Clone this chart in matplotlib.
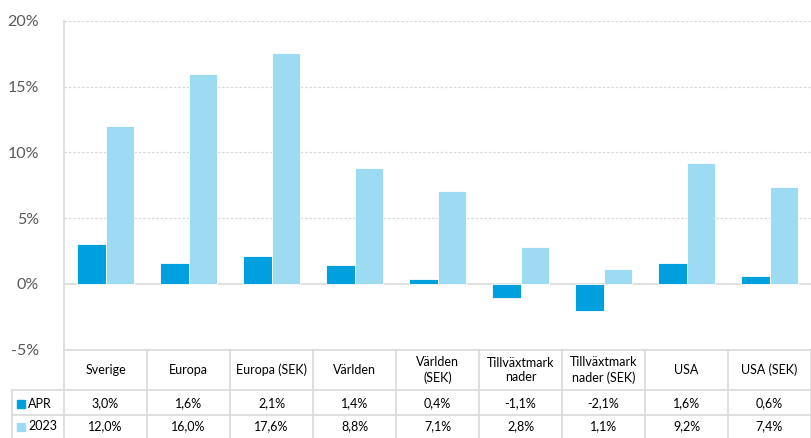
import numpy as np
import matplotlib
matplotlib.use("Agg")
import matplotlib.pyplot as plt

plt.rcParams['font.family'] = ['Lato', 'DejaVu Sans']

# data
categories = ["Sverige", "Europa", "Europa (SEK)", "Världen", "Världen\n(SEK)",
              "Tillväxtmark\nnader", "Tillväxtmark\nnader (SEK)", "USA", "USA (SEK)"]
series_names = ["APR", "2023"]
apr = [3.0, 1.6, 2.1, 1.4, 0.4, -1.1, -2.1, 1.6, 0.6]
y2023 = [12.0, 16.0, 17.6, 8.8, 7.1, 2.8, 1.1, 9.2, 7.4]
yticks = [-5, 0, 5, 10, 15, 20]

c_apr = "#00a0df"
c_2023 = "#9cdbf2"
grid_c = "#d9d9d9"

W, H = 811, 438
fig = plt.figure(figsize=(W / 100, H / 100), dpi=100)

# plot area (pixel layout)
left, right, top, bottom = 64, 811, 21, 349.5
ax = fig.add_axes([left / W, 1 - bottom / H, (right - left) / W, (bottom - top) / H])

n = len(categories)
x = np.arange(n)
bw = 0.343
ax.bar(x - bw / 2, apr, bw, color=c_apr, edgecolor="white", linewidth=0.6, zorder=3)
ax.bar(x + bw / 2, y2023, bw, color=c_2023, edgecolor="white", linewidth=0.6, zorder=3)

ax.set_xlim(-0.5, n - 0.5)
ax.set_ylim(-5, 20)
ax.set_yticks(yticks)
ax.set_yticklabels([f"{v}%" for v in yticks], fontsize=11.5, color="#595959")
ax.set_xticks([])
ax.tick_params(axis="y", length=0, pad=18)
for v in yticks:
    if v == 0:
        ax.axhline(v, color=grid_c, lw=1.2, zorder=2)
    elif v != -5:
        ax.axhline(v, color=grid_c, lw=0.9, ls=(0, (2, 1.5)), zorder=1)
for s in ["top", "right", "bottom"]:
    ax.spines[s].set_visible(False)
ax.spines["left"].set_color(grid_c)
ax.spines["left"].set_linewidth(1.2)

# data table below
tab = fig.add_axes([0, 0, 1, 1])
tab.set_xlim(0, W)
tab.set_ylim(H, 0)
tab.axis("off")
cw = (right - left) / n
lc = "#d9d9d9"
lw = 1.2
y_head_top, y_r1, y_r2, y_end = 350, 390, 415, 440
tab.plot([left, right], [y_head_top, y_head_top], color=lc, lw=lw)
tab.plot([12, right], [y_r1, y_r1], color=lc, lw=lw)
tab.plot([12, right], [y_r2, y_r2], color=lc, lw=lw)
tab.plot([12, 12], [y_r1, y_end], color=lc, lw=lw)
for i in range(n + 1):
    xx = left + i * cw
    tab.plot([xx, xx], [y_head_top, y_end], color=lc, lw=lw)

fs = 9
for i, cat in enumerate(categories):
    cx = left + (i + 0.5) * cw
    tab.text(cx, (y_head_top + y_r1) / 2, cat, ha="center", va="center",
             fontsize=fs, color="#000000", linespacing=1.25)
    tab.text(cx, (y_r1 + y_r2) / 2 + 1, f"{apr[i]:.1f}%".replace(".", ","),
             ha="center", va="center", fontsize=fs, color="#000000")
    tab.text(cx, (y_r2 + y_end) / 2 - 1, f"{y2023[i]:.1f}%".replace(".", ","),
             ha="center", va="center", fontsize=fs, color="#000000")

for j, (name, col) in enumerate(zip(series_names, [c_apr, c_2023])):
    yc = (y_r1 + y_r2) / 2 + 1 if j == 0 else (y_r2 + y_end) / 2 - 1
    tab.add_patch(plt.Rectangle((17, yc - 4), 8, 8, color=col))
    tab.text(28, yc, name, ha="left", va="center", fontsize=fs, color="#000000")

fig.savefig("out.png", dpi=100)
